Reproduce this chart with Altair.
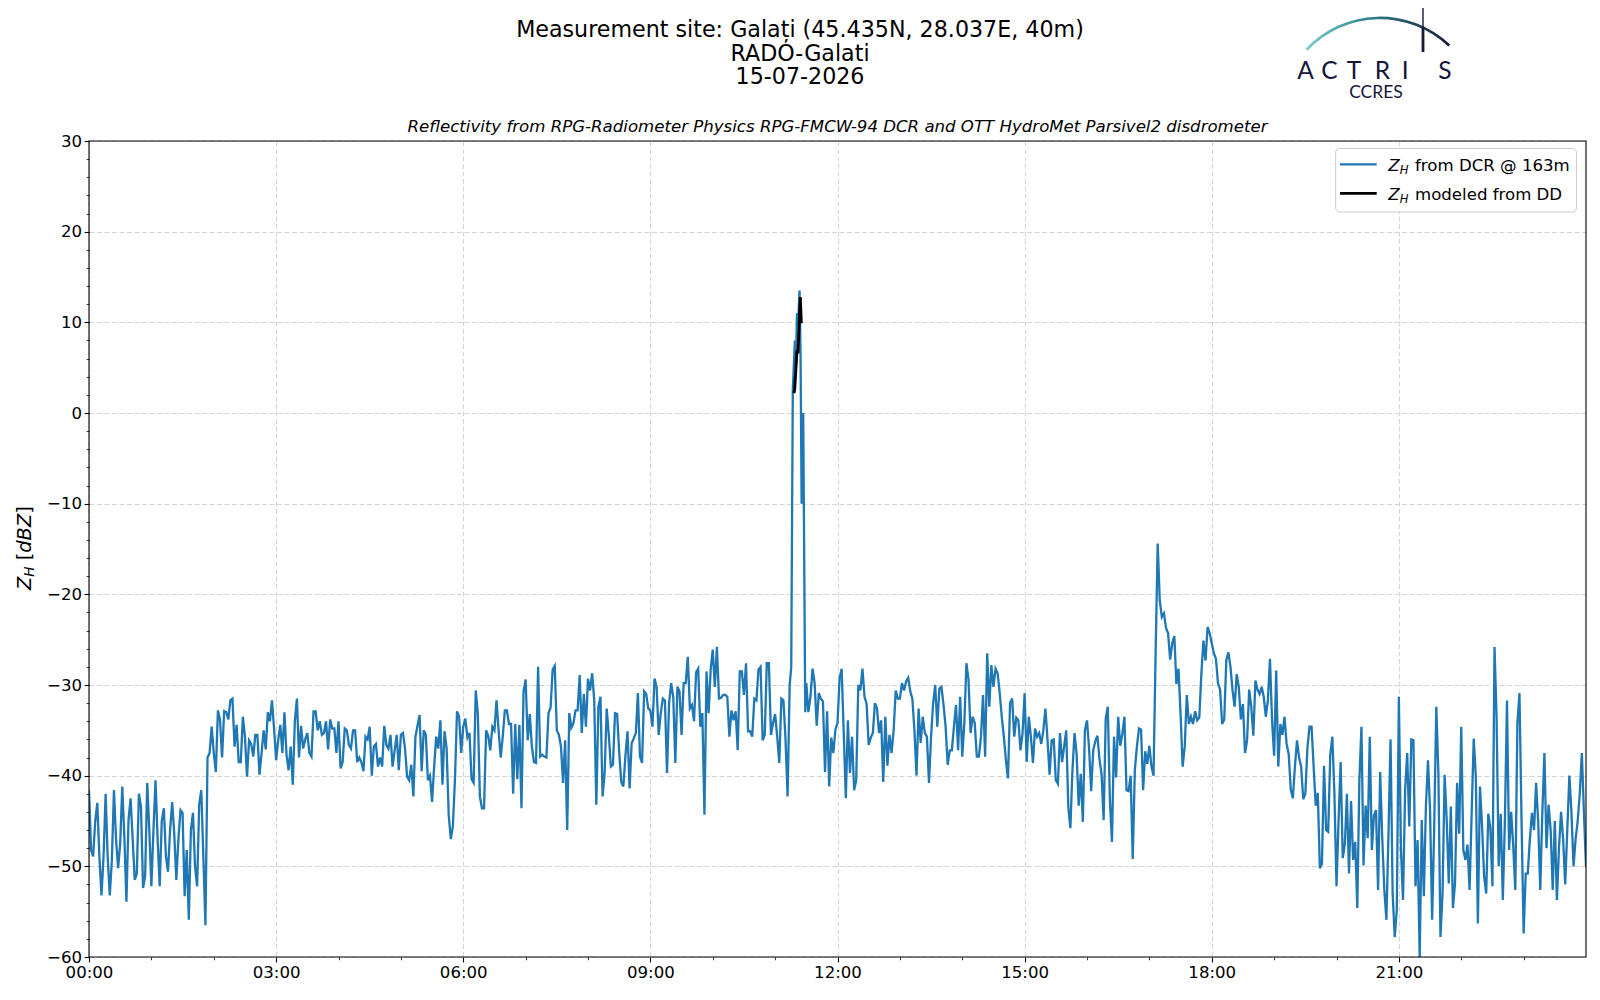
import altair as alt
import pandas as pd

# ---------------- data ----------------
# Z_H from DCR at minutes 0, 4, 8, ... 1440 (None = covered by the finer spike samples)
dcr_00_06 = [
    -41.6, -48.9, -43.0, -53.2, -42.0, -53.2, -41.6, -50.2, -41.2, -53.9, -42.5, -51.5, -42.0, -52.4, -40.8,
    -52.2, -40.5, -52.2, -43.6, -50.6, -42.9, -51.5, -43.8, -53.3, -55.9, -44.1, -52.2, -41.6, -56.5, -37.5,
    -37.5, -32.8, -38.0, -33.0, -31.7, -36.8, -38.5, -33.5, -40.1, -36.5, -35.5, -39.9, -35.0, -33.0, -31.7,
    -38.3, -34.4, -33.0, -39.4, -41.0, -31.5, -34.5, -36.0, -37.5, -32.9, -35.0, -35.5, -34.0, -33.8, -34.8,
    -34.0, -38.5, -35.0, -37.0, -35.0, -38.0, -39.5, -36.0, -40.0, -36.5, -38.0, -34.5, -37.0, -39.0, -35.5,
    -35.5, -37.0, -40.5, -42.3, -34.5, -39.5, -35.5, -40.0, -39.0, -37.0, -41.0, -37.0, -47.0, -40.5, -33.5,
]
dcr_06_12 = [
    -34.6, -35.8, -40.4, -30.6, -42.3, -43.6, -35.6, -34.6, -31.7, -38.0, -32.8, -34.3, -42.0, -40.4, -43.6,
    -29.4, -33.2, -38.5, -28.0, -37.7, -38.0, -32.5, -27.9, -35.5, -40.8, -46.0, -34.7, -32.8, -28.9, -31.0,
    -29.3, -28.7, -43.2, -31.3, -39.7, -35.5, -38.8, -33.2, -40.7, -37.8, -41.4, -35.9, -30.9, -38.6, -31.0,
    -32.8, -29.3, -35.5, -31.5, -39.7, -29.8, -38.6, -30.7, -29.8, -26.9, -32.2, -28.6, -34.6, -44.3, -33.1,
    -26.1, -25.8, -31.4, -31.1, -35.7, -33.9, -37.2, -28.5, -27.6, -35.1, -31.5, -28.3, -36.1, -27.6, -35.5,
    -33.2, -38.6, -31.7, -42.3, None, None, None, None, -33.0, -28.2, -34.5, -31.5, -39.6, -41.2, -37.5,
]
dcr_12_18 = [
    -34.2, -28.2, -42.5, -39.7, -41.6, -30.0, -28.2, -32.1, -35.8, -32.0, -35.3, -40.7, -38.9, -37.5, -30.6,
    -31.5, -30.6, -29.2, -31.5, -40.0, -36.4, -35.3, -40.8, -32.0, -34.6, -30.2, -34.6, -37.2, -34.6, -37.2,
    -37.9, -27.6, -35.3, -34.2, -37.9, -31.1, -26.5, -27.8, -28.2, -30.8, -35.7, -40.3, -31.5, -33.6, -37.2,
    -30.9, -33.5, -38.6, -35.7, -36.5, -32.6, -39.9, -36.0, -40.9, -38.5, -35.0, -45.8, -35.3, -43.3, -45.1,
    -33.9, -41.7, -36.2, -38.2, -44.9, -32.4, -47.3, -40.2, -36.7, -33.5, -41.7, -49.2, -36.8, -34.9, -37.3,
    -36.7, -40.0, -14.4, -22.5, -23.7, -27.2, -24.6, -28.2, -39.0, -31.1, -33.5, -32.9, -33.6, -25.1, -23.6,
]
dcr_18_24 = [
    -25.4, -27.1, -30.5, -33.8, -26.4, -30.6, -28.8, -33.8, -37.5, -30.5, -35.6, -30.5, -30.2, -33.5, -27.1,
    -37.8, -39.0, -35.5, -36.5, -41.5, -39.0, -38.0, -42.6, -37.0, -34.6, -43.3, -50.2, -38.9, -46.2, -35.7,
    -52.2, -38.5, -47.6, -50.8, -49.3, -54.6, -34.6, -43.3, -35.7, -44.4, -52.6, -46.9, -55.9, -36.0, -57.8,
    -31.3, -53.7, -37.5, -36.0, -52.2, -60.0, -53.3, -38.3, -55.9, -32.4, -57.8, -39.9, -51.9, -54.6, -40.8,
    -34.6, -49.3, -52.6, -35.9, -56.3, -45.5, -53.0, -45.8, -25.8, -50.0, -53.7, -31.7, -44.0, -52.6, -30.9,
    -57.4, -50.8, -44.1, -40.8, -52.6, -37.5, -43.2, -52.6, -53.7, -44.0, -52.0, -40.0, -50.0, -45.0, -37.5, -50.0,
]
# Z_H from DCR at the in-between minutes 2, 6, 10, ... 1438
mid_00_06 = [
    -48.2, -45.0, -49.0, -48.9, -49.1, -49.3, -47.0, -47.5, -46.7, -44.9, -47.0, -50.8, -43.4, -51.1, -46.0,
    -46.0, -47.0, -45.0, -48.9, -46.0, -46.4, -47.0, -44.1, -48.2, -46.0, -50.0, -43.2, -49.0, -38.0, -34.6,
    -39.6, -33.8, -32.9, -33.8, -31.5, -34.4, -38.5, -35.7, -36.1, -37.9, -35.5, -37.5, -37.1, -34.0, -34.8,
    -36.1, -37.5, -37.7, -36.8, -34.0, -38.0, -37.0, -35.3, -37.9, -32.9, -34.0, -35.3, -37.1, -34.8, -37.5,
    -39.2, -34.8, -36.6, -35.0, -38.5, -38.5, -35.7, -34.6, -36.8, -39.0, -39.0, -36.6, -35.5, -37.2, -39.4,
    -35.3, -40.1, -38.8, -35.7, -33.3, -35.0, -40.5, -42.9, -35.7, -33.9, -35.1, -44.3, -45.6, -32.9, -37.5,
]
mid_06_12 = [
    -33.7, -35.3, -40.8, -33.1, -43.6, -35.0, -37.2, -35.0, -35.0, -35.7, -32.8, -34.3, -34.3, -34.4, -30.7,
    -36.1, -36.8, -38.6, -37.9, -37.9, -33.1, -28.3, -35.0, -36.8, -36.1, -33.1, -34.2, -32.8, -35.3, -34.6,
    -30.6, -31.7, -32.4, -42.3, -32.6, -39.0, -33.1, -37.4, -41.2, -35.1, -36.4, -35.3, -37.9, -30.7, -32.6,
    -34.6, -30.2, -33.1, -31.7, -32.0, -31.3, -30.2, -35.5, -29.8, -32.6, -34.0, -28.2, -33.1, -28.5, -28.3,
    -30.2, -31.5, -31.1, -31.3, -32.8, -32.9, -28.5, -31.1, -35.1, -35.7, -31.7, -28.0, -35.5, -27.6, -34.2,
    -35.7, -31.5, -36.0, None, None, None, None, -29.8, -31.3, -29.8, -30.9, -31.8, -32.9, -35.8, -34.9,
]
mid_12_18 = [
    -29.3, -35.3, -33.9, -35.7, -40.5, -30.6, -31.3, -36.6, -35.3, -32.6, -33.9, -33.5, -35.5, -35.0, -31.5,
    -29.8, -29.6, -30.7, -35.0, -32.6, -33.5, -35.7, -35.7, -30.0, -30.4, -32.2, -38.8, -37.2, -32.2, -31.3,
    -34.2, -29.4, -33.5, -37.9, -35.7, -37.9, -32.4, -30.2, -28.7, -33.5, -38.3, -32.0, -35.7, -33.9, -35.3,
    -38.5, -35.7, -34.8, -35.3, -35.0, -36.0, -36.1, -40.5, -35.3, -36.8, -43.4, -39.4, -37.6, -39.8, -35.0,
    -37.0, -37.2, -35.6, -39.8, -33.7, -42.7, -35.7, -33.5, -35.4, -41.6, -40.0, -39.4, -34.8, -41.6, -38.7,
    -39.0, -26.5, -20.7, -22.1, -24.3, -25.4, -29.9, -33.2, -36.8, -34.3, -34.3, -33.9, -28.8, -27.3, -24.3,
]
mid_18_24 = [
    -26.5, -29.8, -34.3, -27.3, -28.0, -32.4, -30.2, -32.1, -36.1, -32.4, -29.5, -31.0, -31.3, -31.7, -33.9,
    -28.4, -34.3, -33.5, -37.6, -42.5, -36.1, -39.0, -42.0, -34.6, -39.0, -41.9, -49.7, -46.0, -37.7, -42.0,
    -44.9, -49.1, -42.0, -42.8, -47.3, -40.5, -49.9, -46.9, -48.2, -43.8, -39.6, -52.6, -46.4, -53.0, -54.8,
    -48.2, -41.6, -45.6, -36.1, -47.1, -44.9, -43.4, -43.8, -45.6, -39.7, -53.0, -44.9, -43.4, -51.9, -46.4,
    -48.2, -47.6, -44.2, -40.1, -41.2, -51.1, -44.2, -52.2, -33.7, -44.2, -44.9, -48.2, -47.8, -34.2, -45.0,
    -50.8, -47.0, -46.0, -45.0, -44.0, -48.0, -46.0, -45.0, -48.0, -47.0, -46.0, -44.0, -47.0, -42.0, -44.0,
]
# finer samples of the DCR spike around 11:15-11:30 (minutes of day)
spike_min = [674, 675.5, 677, 679, 680, 681, 682, 683.5, 684.5, 685.5, 687, 689]
spike_zh = [-30.0, -28.0, 2.5, 8.0, 5.0, 11.0, 9.5, 13.5, 6.0, -10.0, 0.0, -33.0]

# Z_H modeled from the disdrometer
dd_min = [678, 678.8, 681, 682, 684.2, 685.2]
dd_zh = [2.2, 2.6, 6.9, 6.6, 12.8, 9.9]

x_major = [0, 180, 360, 540, 720, 900, 1080, 1260]
x_minor = [h * 60 for h in range(1, 24) if h % 3 != 0]
y_major = list(range(-60, 31, 10))
y_minor = [v for v in range(-58, 30, 2) if v % 10 != 0]

# ---------------- tables ----------------
grid_min = list(range(0, 1441, 4))
mid_min = list(range(2, 1440, 4))
dcr_all = dcr_00_06 + dcr_06_12 + dcr_12_18 + dcr_18_24
mid_all = mid_00_06 + mid_06_12 + mid_12_18 + mid_18_24
rows = [(m, v) for m, v in zip(grid_min, dcr_all) if v is not None]
rows += [(m, v) for m, v in zip(mid_min, mid_all) if v is not None]
rows += list(zip(spike_min, spike_zh))
dcr_df = pd.DataFrame(rows, columns=["minute", "zh"]).sort_values("minute").reset_index(drop=True)
dd_df = pd.DataFrame({"minute": dd_min, "zh": dd_zh})

FONT = "DejaVu Sans"
W, H = 1497, 816

xscale = alt.Scale(domain=[0, 1440], nice=False, zero=False)
yscale = alt.Scale(domain=[-60, 30], nice=False, zero=False)

x_axis_major = alt.Axis(
    orient="bottom", values=x_major, title=None,
    labelExpr="(datum.value < 600 ? '0' : '') + floor(datum.value / 60) + ':00'",
    grid=True, gridColor="#d4d4d4", gridDash=[5, 2.5], gridWidth=1,
    domain=False, tickSize=4.9, tickColor="black", tickWidth=1.1,
    labelFont=FONT, labelFontSize=16.6, labelColor="black", labelPadding=3,
    labelFlush=False, labelOverlap=False,
)
y_axis_major = alt.Axis(
    orient="left", values=y_major, title=None, format="d",
    grid=True, gridColor="#d4d4d4", gridDash=[5, 2.5], gridWidth=1,
    domain=False, tickSize=4.9, tickColor="black", tickWidth=1.1,
    labelFont=FONT, labelFontSize=16.6, labelColor="black", labelPadding=2.5,
    labelFlush=False, labelOverlap=False,
)
x_axis_minor = alt.Axis(orient="bottom", values=x_minor, title=None, labels=False,
                        grid=False, domain=False, tickSize=2.8, tickColor="black", tickWidth=0.8)
y_axis_minor = alt.Axis(orient="left", values=y_minor, title=None, labels=False,
                        grid=False, domain=False, tickSize=2.8, tickColor="black", tickWidth=0.8)

dcr_line = alt.Chart(dcr_df).mark_line(color="#1f77b4", strokeWidth=2.3, clip=True).encode(
    x=alt.X("minute:Q", scale=xscale, axis=x_axis_major),
    y=alt.Y("zh:Q", scale=yscale, axis=y_axis_major),
)
dd_line = alt.Chart(dd_df).mark_line(color="black", strokeWidth=2.9, clip=True).encode(
    x=alt.X("minute:Q", scale=xscale, axis=x_axis_minor),
    y=alt.Y("zh:Q", scale=yscale, axis=y_axis_minor),
)


def one():
    return alt.Chart(alt.Data(values=[{}]))


def txt(s, x, y, size, align="left", italic=False, angle=0, font=FONT, color="black"):
    kw = dict(text=s, fontSize=size, font=font, color=color, align=align, baseline="alphabetic")
    if italic:
        kw["fontStyle"] = "italic"
    if angle:
        kw["angle"] = angle
    return one().mark_text(**kw).encode(x=alt.value(x), y=alt.value(y))


layers = [dcr_line, dd_line]

# black frame on top of the grid (matplotlib spines)
frame = one().mark_rect(fillOpacity=0, stroke="black", strokeWidth=1.1).encode(
    x=alt.value(0), x2=alt.value(W), y=alt.value(0), y2=alt.value(H))
layers.append(frame)

# titles
cx = 800 - 89
layers += [
    txt("Measurement site: Galați (45.435N, 28.037E, 40m)", cx, -104, 22.2, align="center"),
    txt("RADO-Galati", cx, -80.5, 22.2, align="center"),
    txt("15-07-2026", cx, -57, 22.2, align="center"),
    txt("Reflectivity from RPG-Radiometer Physics RPG-FMCW-94 DCR and OTT HydroMet Parsivel2 disdrometer",
        W / 2, -9, 16.6, align="center", italic=True),
]

# y-axis title  Z_H [dBZ]
layers += [
    txt("Z", -58, 449, 19.4, italic=True, angle=270),
    txt("H", -55, 435.7, 13.6, italic=True, angle=270),
    txt("[", -58, 419.3, 19.4, angle=270),
    txt("dBZ", -58, 411.7, 19.4, italic=True, angle=270),
    txt("]", -58, 372.8, 19.4, angle=270),
]

# legend
legend_box = one().mark_rect(fill="white", fillOpacity=0.8, stroke="#cccccc", strokeWidth=1,
                             cornerRadius=4).encode(
    x=alt.value(1246.7), x2=alt.value(1487.5), y=alt.value(7.5), y2=alt.value(71))
leg_blue = one().mark_rule(color="#1f77b4", strokeWidth=2.3).encode(
    x=alt.value(1251), x2=alt.value(1287.7), y=alt.value(23.3))
leg_black = one().mark_rule(color="black", strokeWidth=2.8).encode(
    x=alt.value(1251), x2=alt.value(1287.7), y=alt.value(52.3))
layers += [legend_box, leg_blue, leg_black]
for yb, rest in [(29.5, "from DCR @ 163m"), (58.5, "modeled from DD")]:
    layers += [
        txt("Z", 1299.3, yb, 16.6, italic=True),
        txt("H", 1310.7, yb + 3.2, 11.6, italic=True),
        txt(rest, 1326, yb, 16.6),
    ]

# logo
arc_grad = {"gradient": "linear", "x1": 0, "y1": 0, "x2": 1, "y2": 0,
            "stops": [{"offset": 0, "color": "#7ccfc9"},
                      {"offset": 0.45, "color": "#2f7f8e"},
                      {"offset": 1, "color": "#161a3a"}]}
logo_arc = one().mark_arc(radius=102, radius2=99.3, theta=5.466, theta2=7.042, fill=arc_grad).encode(
    x=alt.value(1291), y=alt.value(-22.4))
logo_bar_top = one().mark_rule(color="#161a3a", strokeWidth=1.4).encode(
    x=alt.value(1334), y=alt.value(-139), y2=alt.value(-112))
logo_bar_bot = one().mark_rule(color="#161a3a", strokeWidth=2.8).encode(
    x=alt.value(1334), y=alt.value(-113), y2=alt.value(-89))
layers += [logo_arc, logo_bar_top, logo_bar_bot]
for letter, lx in zip(["A", "C", "T", "R", "I", "S"], [1216.5, 1240.5, 1265, 1293.5, 1316.3, 1356]):
    layers.append(txt(letter, lx, -62.3, 24.5, align="center", font="Lato", color="#13163a"))
layers.append(txt("CCRES", 1287, -43, 17.5, align="center", font="Lato", color="#13163a"))

chart = alt.layer(*layers).resolve_axis(x="independent", y="independent").properties(
    width=W, height=H,
    autosize=alt.AutoSizeParams(type="none"),
    padding={"left": 81, "top": 133, "right": 4, "bottom": 28},
    background="white",
).configure_view(strokeWidth=0)

chart.save("out.html", embed_options={"renderer": "svg", "actions": False})
